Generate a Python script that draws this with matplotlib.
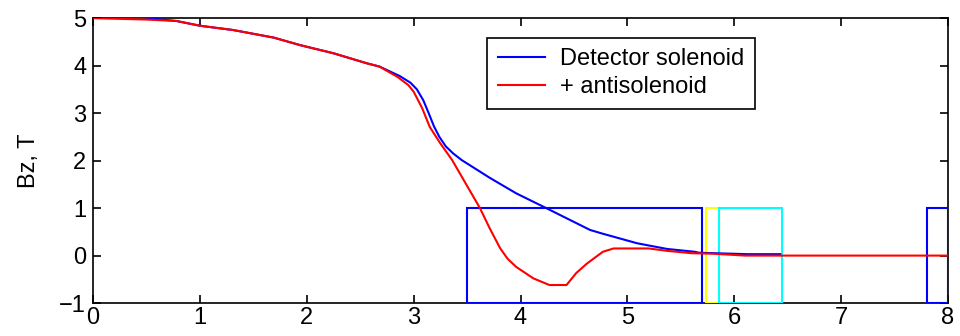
import matplotlib.pyplot as plt
import matplotlib.patches as patches

plt.rcParams['font.family'] = ['Liberation Sans', 'DejaVu Sans']

# Detector solenoid field (blue)
z_det = [0.5, 0.78, 1.0, 1.31, 1.69, 1.94, 2.25, 2.56, 2.68, 2.87, 2.97, 3.03, 3.09, 3.14,
         3.19, 3.24, 3.3, 3.37, 3.45, 3.71, 3.96, 4.24, 4.65, 4.77, 5.09, 5.37, 5.63, 5.67,
         6.12, 6.43]
bz_det = [5.0, 4.94, 4.84, 4.75, 4.59, 4.43, 4.26, 4.05, 3.98, 3.78, 3.64, 3.5, 3.27, 3.0,
          2.72, 2.5, 2.3, 2.15, 2.01, 1.64, 1.31, 1.0, 0.54, 0.46, 0.26, 0.14, 0.08, 0.06,
          0.03, 0.03]

# with antisolenoid (red)
z_anti = [0.0, 0.5, 0.78, 1.0, 1.31, 1.69, 1.94, 2.25, 2.56, 2.68, 2.85, 2.95, 3.0, 3.08,
          3.15, 3.25, 3.36, 3.45, 3.54, 3.62, 3.71, 3.81, 3.88, 3.96, 4.12, 4.27, 4.43, 4.52,
          4.62, 4.77, 4.87, 5.05, 5.2, 5.37, 5.6, 5.8, 6.1, 8.0]
bz_anti = [5.0, 4.97, 4.94, 4.84, 4.75, 4.59, 4.43, 4.26, 4.05, 3.98, 3.76, 3.59, 3.45, 3.1,
           2.71, 2.36, 2.01, 1.66, 1.31, 1.0, 0.58, 0.15, -0.07, -0.24, -0.48, -0.62, -0.62,
           -0.37, -0.17, 0.08, 0.15, 0.15, 0.15, 0.1, 0.05, 0.04, 0.0, 0.0]

# element outlines: (z start, z end, colour)
boxes = [(3.5, 5.7, 'blue'), (5.74, 5.86, 'yellow'), (5.86, 6.45, 'cyan'), (7.8, 8.0, 'blue')]
box_lo, box_hi = -1, 1

fig = plt.figure(figsize=(9.6, 3.36), dpi=100)
ax = fig.add_axes([0.097, 0.098, 0.8905, 0.848])

for z0, z1, c in boxes:
    ax.add_patch(patches.Rectangle((z0, box_lo), z1 - z0, box_hi - box_lo,
                                   fill=False, edgecolor=c, lw=1.5, zorder=3))

ax.plot(z_det, bz_det, color='blue', lw=1.5, label='Detector solenoid', zorder=4)
ax.plot(z_anti, bz_anti, color='red', lw=1.5, label='+ antisolenoid', zorder=5)

ax.set_xlim(0, 8)
ax.set_ylim(-1, 5)
ax.set_xticks(range(0, 9))
ax.set_yticks(range(-1, 6))
ax.set_yticklabels(['\u22121', '0', '1', '2', '3', '4', '5'])
ax.tick_params(direction='in', top=True, right=True, length=6, width=1.2, labelsize=17)
ax.tick_params(axis='x', pad=3)
ax.tick_params(axis='y', pad=5)
for s in ax.spines.values():
    s.set_linewidth(1.2)
ax.set_ylabel('Bz, T', fontsize=17, labelpad=14)

leg = ax.legend(loc='upper left', bbox_to_anchor=(0.461, 0.932), borderaxespad=0,
                fontsize=17, fancybox=False, framealpha=1, edgecolor='black',
                handlelength=2.0, borderpad=0.45, labelspacing=0.25, handletextpad=0.65)
leg.get_frame().set_linewidth(1.2)

plt.savefig('out.png', dpi=100)
